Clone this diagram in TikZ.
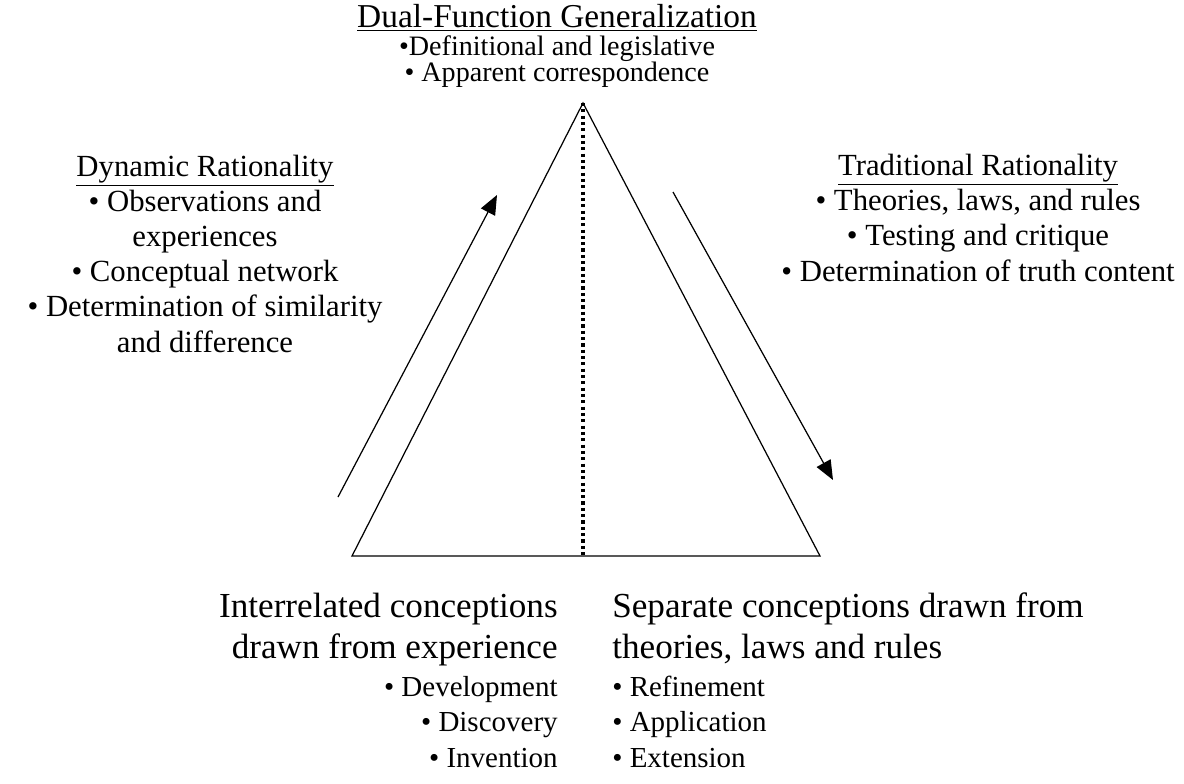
\documentclass[tikz,border=0pt]{standalone}
\usepackage{fontspec}
\setmainfont{Liberation Serif}
\usetikzlibrary{positioning,arrows.meta}

\begin{document}
\begin{tikzpicture}[x=0.02cm,y=-0.02cm,>={Triangle[length=11pt,width=9pt]},
  hd/.style={font=\fontsize{20}{23}\selectfont,inner sep=0pt},
  tx/.style={font=\fontsize{17.5}{20}\selectfont,inner sep=0pt,align=center},
  ln/.style={line width=0.7pt}]
\useasboundingbox (0,0) rectangle (1184,784);
% triangle with dotted middle
\coordinate (top) at (583,103);
\coordinate (bl) at (352,556);
\coordinate (br) at (820,556);
\coordinate (mid) at (583,556);
\draw[ln] (top) -- (bl) -- (br) -- cycle;
\draw[line width=1.8pt,dash pattern=on 1.8pt off 1.8pt] (top) -- (mid);
% the two arrows
\coordinate (la) at (338,497); \coordinate (lb) at (497,195);
\coordinate (ra) at (673,192); \coordinate (rb) at (833,480);
\draw[ln,->] (la) -- (lb);
\draw[ln,->] (ra) -- (rb);
% top (base of a multi-line node = last line)
\node[hd,font=\fontsize{19}{23}\selectfont,anchor=base] (gen) at (557,28) {\underline{Dual-Function Generalization}};
\node[tx,font=\fontsize{16}{15}\selectfont,anchor=base] (gt) at (557,82) {•Definitional and legislative\\• Apparent correspondence};
% sides
\node[tx,anchor=base] (dyn) at (205,352) {\underline{Dynamic Rationality}\\• Observations and\\experiences\\• Conceptual network\\• Determination of similarity\\and difference};
\node[tx,anchor=base] (trad) at (978,281) {\underline{Traditional Rationality}\\• Theories, laws, and rules\\• Testing and critique\\• Determination of truth content};
% bottom
\node[hd,align=right,anchor=base east] (ic) at (558,658) {Interrelated conceptions\\drawn from experience};
\node[tx,font=\fontsize{16.5}{20}\selectfont,align=right,anchor=base east] (icb) at (558,767) {• Development\\• Discovery\\• Invention};
\node[hd,align=left,anchor=base west] (sc) at (612,658) {Separate conceptions drawn from\\theories, laws and rules};
\node[tx,font=\fontsize{16.5}{20}\selectfont,align=left,anchor=base west] (scb) at (612,767) {• Refinement\\• Application\\• Extension};
\end{tikzpicture}
\end{document}
